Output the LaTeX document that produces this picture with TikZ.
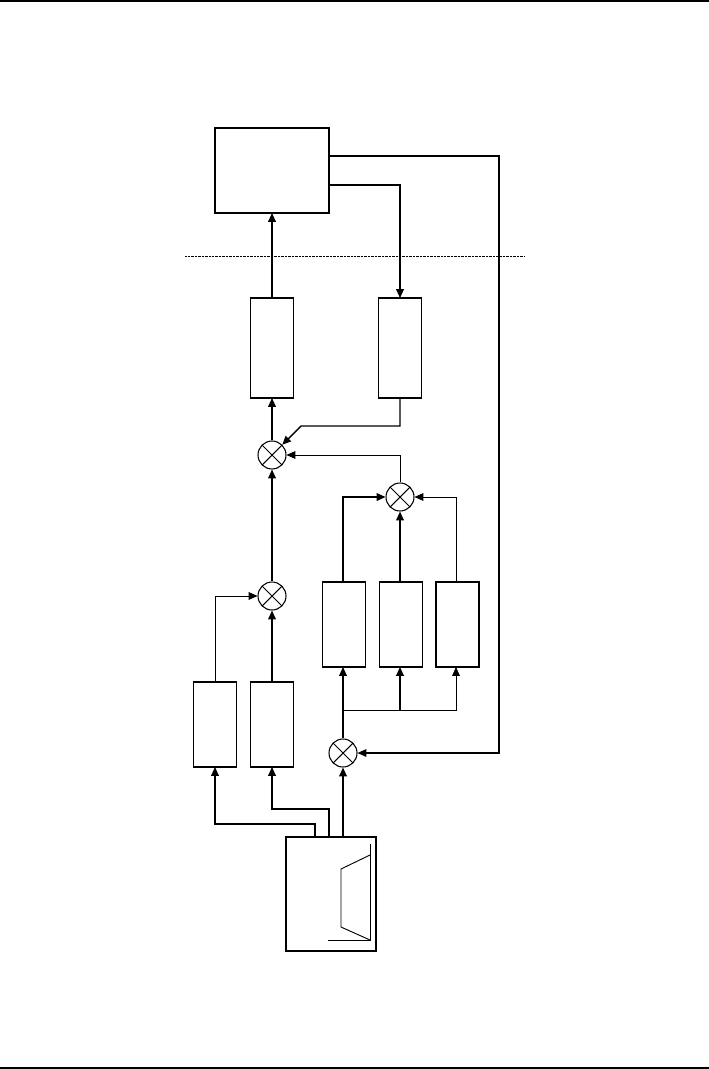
\documentclass[tikz,border=0pt]{standalone}
\usepackage{tikz}
\usetikzlibrary{arrows.meta,positioning,calc}
\tikzset{
  blk/.style={rectangle, draw, line width=1.2pt, inner sep=0pt, outer sep=0pt},
  mult/.style={circle, draw, line width=0.9pt, minimum size=0.84cm, inner sep=0pt,
               path picture={\draw[line width=0.9pt]
                 (path picture bounding box.north west) -- (path picture bounding box.south east)
                 (path picture bounding box.north east) -- (path picture bounding box.south west);}},
  sig/.style={line width=1.2pt, -{Triangle[length=7.5pt,width=6.5pt]}},
  thinsig/.style={line width=0.6pt, -{Triangle[length=7.5pt,width=6.5pt]}},
}
\begin{document}
\begin{tikzpicture}[x=0.03cm, y=-0.03cm]
  \useasboundingbox (0,0) rectangle (709,1069);
  \draw[line width=1.3pt] (0,1) -- (709,1);
  \draw[line width=1.3pt] (0,1068) -- (709,1068);

  \node[blk, minimum width=3.42cm, minimum height=2.55cm] (ctrl) at (272,170.5) {};
  \node[blk, minimum width=1.29cm, minimum height=3cm] (up) at (272,348) {};
  \node[blk, minimum width=1.29cm, minimum height=3cm] (dn) at (400,348) {};
  \node[mult] (m1) at (272,455) {};
  \node[mult] (m2) at (400,497) {};
  \node[mult] (m3) at (272,596) {};
  \node[mult] (m4) at (343,753) {};
  \node[blk, minimum width=1.29cm, minimum height=2.55cm] (b1) at (344,624.5) {};
  \node[blk, minimum width=1.29cm, minimum height=2.55cm] (b2) at (401,624.5) {};
  \node[blk, minimum width=1.29cm, minimum height=2.55cm] (b3) at (457.5,624.5) {};
  \node[blk, minimum width=1.29cm, minimum height=2.55cm] (ll1) at (215,724.5) {};
  \node[blk, minimum width=1.29cm, minimum height=2.55cm] (ll2) at (272,724.5) {};
  \node[blk, line width=0.9pt, minimum width=2.7cm, minimum height=3.42cm] (src) at (331,894) {};

  % symbol inside the source box
  \draw[line width=0.8pt] (370,844) -- (370,940) -- (328,940);
  \draw[line width=0.8pt] (370,855) -- (341,869) -- (341,927) -- (370,940);

  \draw[line width=0.6pt, dash pattern=on 0.6pt off 0.6pt] (185,256) -- (525,256);

  \coordinate (fbtop) at (499,156);
  \coordinate (dntop) at (400,185);
  \coordinate (bend) at (301,426);
  \coordinate (split) at (343,710);
  \coordinate (ta) at (329,809);
  \coordinate (tb) at (315,824);

  \draw[sig] (up.north) -- (ctrl.south);
  \draw[sig] (ctrl.east |- dntop) -| (dn.north);
  \draw[line width=0.9pt, -{Triangle[length=7.5pt,width=6.5pt]}] (ctrl.east |- fbtop) -- (fbtop) |- (m4.east);
  \draw[sig] (m1.north) -- (up.south);
  \draw[sig] (dn.south) |- (bend) -- (m1.north east);
  \draw[thinsig] (m2.north) |- (m1.east);
  \draw[sig] (b1.north -| m4) |- (m2.west);
  \draw[sig] (b2.north -| dn) -- (m2.south);
  \draw[thinsig] (b3.north -| 456,0) |- (m2.east);
  \draw[sig] (m3.north) -- (m1.south);
  \draw[thinsig] (ll1.north) |- (m3.west);
  \draw[sig] (ll2.north) -- (m3.south);
  \draw[sig] (m4.north) -- (b1.south -| m4);
  \draw[thinsig] (split) -| (b3.south -| 456,0);
  \draw[sig] (split -| dn) -- (b2.south -| dn);
  \draw[sig] (src.north -| m4) -- (m4.south);
  \draw[sig] (src.north -| ta) -- (ta) -| (ll2.south);
  \draw[sig] (src.north -| tb) -- (tb) -| (ll1.south);
\end{tikzpicture}
\end{document}
